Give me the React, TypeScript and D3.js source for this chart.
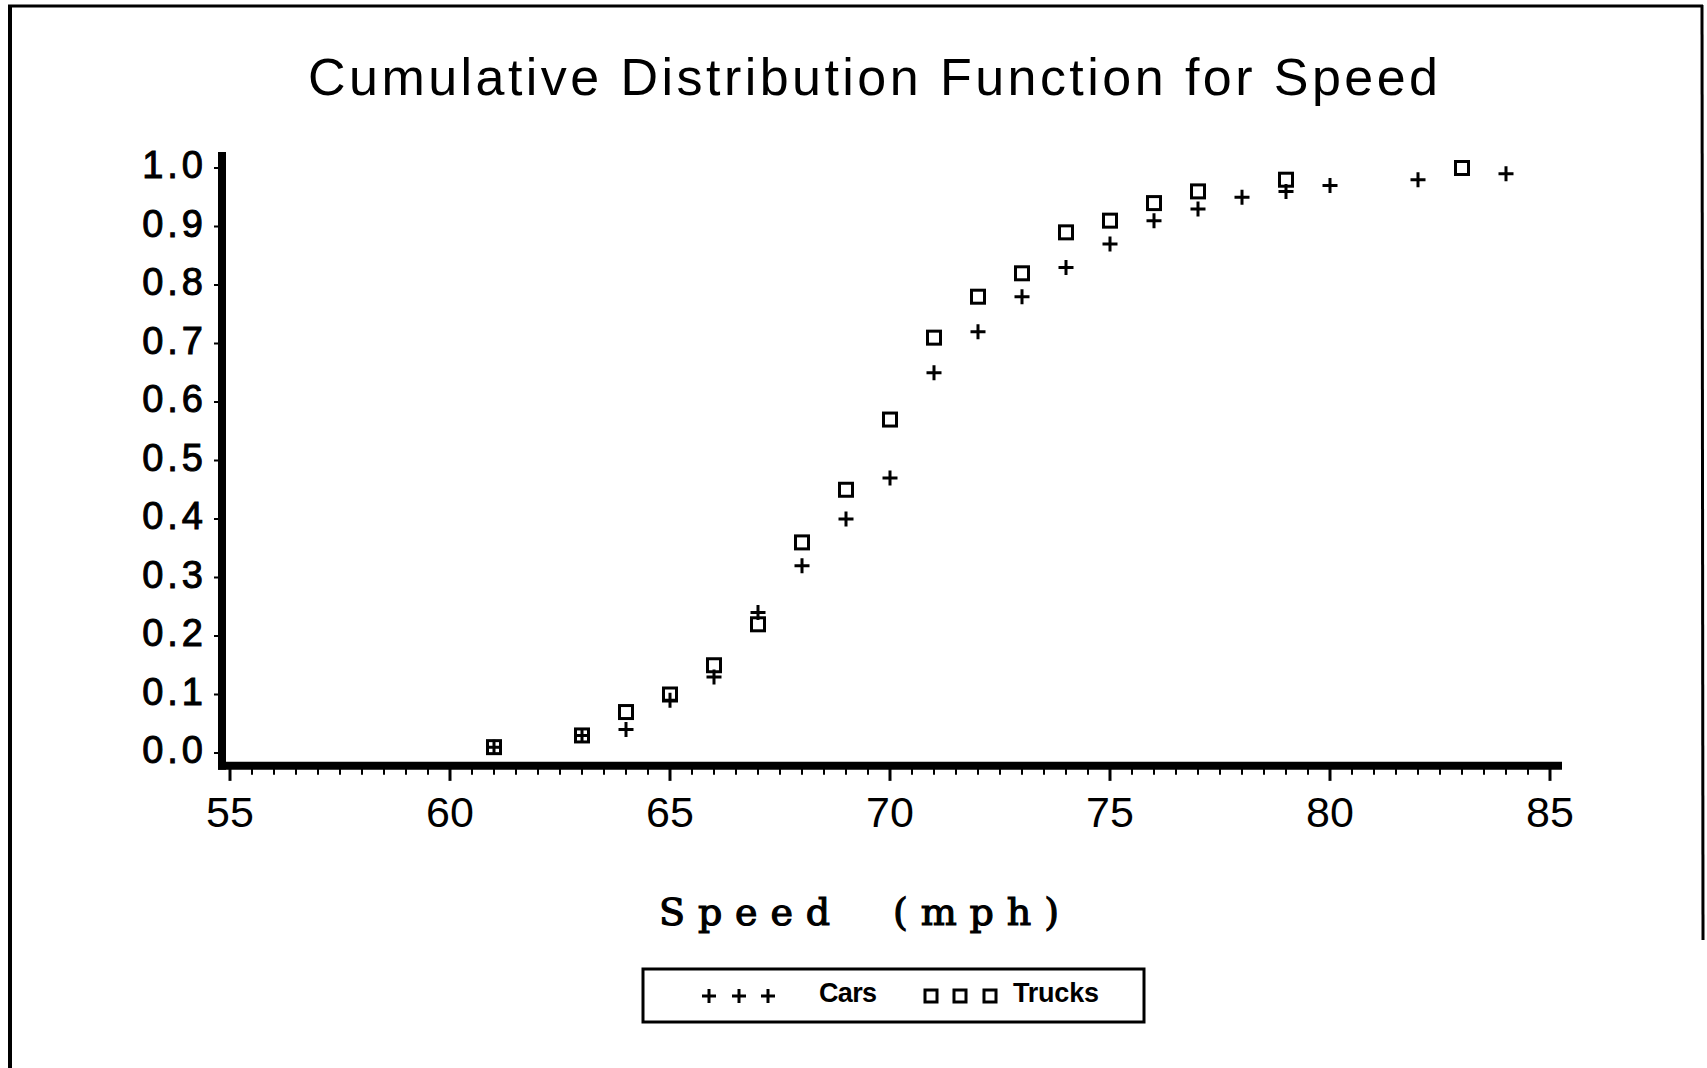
import React from "react";
import * as d3 from "d3";

const carsSpeed = [61, 63, 64, 65, 66, 67, 68, 69, 70, 71, 72, 73, 74, 75, 76, 77, 78, 79, 80, 82, 84];
const carsCdf = [0.01, 0.03, 0.04, 0.09, 0.13, 0.24, 0.32, 0.4, 0.47, 0.65, 0.72, 0.78, 0.83, 0.87, 0.91, 0.93, 0.95, 0.96, 0.97, 0.98, 0.99];
const trucksSpeed = [61, 63, 64, 65, 66, 67, 68, 69, 70, 71, 72, 73, 74, 75, 76, 77, 79, 83];
const trucksCdf = [0.01, 0.03, 0.07, 0.1, 0.15, 0.22, 0.36, 0.45, 0.57, 0.71, 0.78, 0.82, 0.89, 0.91, 0.94, 0.96, 0.98, 1.0];
const xTicks = [55, 60, 65, 70, 75, 80, 85];
const yTicks = [0, 0.1, 0.2, 0.3, 0.4, 0.5, 0.6, 0.7, 0.8, 0.9, 1.0];
const titleText = "Cumulative Distribution Function for Speed";
const xLabelText = "Speed  (mph)";
const legendLabels = ["Cars", "Trucks"];

const W = 1707;
const H = 1068;

export default function App() {
  const x = d3.scaleLinear().domain([55, 85]).range([230, 1550]);
  const y = d3.scaleLinear().domain([0, 1]).range([753, 168]);

  const minorX = d3.range(55, 85.01, 0.5);
  const axisY = y(-0.022);

  const plus = (cx: number, cy: number, s: number) =>
    `M${cx - s},${cy}H${cx + s}M${cx},${cy - s}V${cy + s}`;

  const cars = carsSpeed.map((s, i) => ({ s, v: carsCdf[i] }));
  const trucks = trucksSpeed.map((s, i) => ({ s, v: trucksCdf[i] }));

  return (
    <svg
      width={W}
      height={H}
      style={{ position: "absolute", left: 0, top: 0, background: "#fff" }}
    >
      <rect x={0} y={0} width={W} height={H} fill="#fff" />
      {/* frame */}
      <line x1={8} y1={6} x2={1703} y2={6} stroke="#000" strokeWidth={3} />
      <line x1={10} y1={5} x2={10} y2={H} stroke="#000" strokeWidth={4} />
      <line x1={1702} y1={5} x2={1703} y2={940} stroke="#000" strokeWidth={3} />

      {/* title */}
      <text
        x={308}
        y={95}
        fontFamily="'Liberation Sans', Arial, sans-serif"
        fontSize={52}
        textLength={1130}
        lengthAdjust="spacing"
        fill="#000"
      >
        {titleText}
      </text>

      {/* y axis */}
      <line x1={222} y1={152} x2={222} y2={axisY + 4} stroke="#000" strokeWidth={8} />
      {yTicks.map((t) => (
        <g key={"yt" + t}>
          <line x1={214} y1={y(t)} x2={222} y2={y(t)} stroke="#000" strokeWidth={2} />
          <text
            x={207}
            y={y(t) + 10}
            textAnchor="end"
            fontFamily="'Liberation Sans', Arial, sans-serif"
            fontSize={38}
            letterSpacing={4}
            fill="#000"
            stroke="#000"
            strokeWidth={1}
          >
            {t.toFixed(1)}
          </text>
        </g>
      ))}

      {/* x axis */}
      <line x1={218} y1={axisY} x2={1562} y2={axisY} stroke="#000" strokeWidth={8} />
      {minorX.map((t) => {
        const major = Math.abs(t % 5) < 1e-9;
        return (
          <line
            key={"xt" + t}
            x1={x(t)}
            y1={axisY}
            x2={x(t)}
            y2={axisY + (major ? 15 : 9)}
            stroke="#000"
            strokeWidth={major ? 3 : 2}
          />
        );
      })}
      {xTicks.map((t) => (
        <text
          key={"xl" + t}
          x={x(t)}
          y={827}
          textAnchor="middle"
          fontFamily="'Liberation Sans', Arial, sans-serif"
          fontSize={43}
          fill="#000"
        >
          {t}
        </text>
      ))}

      {/* x axis label */}
      <text
        x={659}
        y={925}
        fontFamily="'DejaVu Serif', 'Liberation Serif', serif"
        fontSize={38}
        textLength={400}
        lengthAdjust="spacing"
        fill="#000"
        stroke="#000"
        strokeWidth={1.2}
        style={{ whiteSpace: "pre" }}
      >
        {xLabelText}
      </text>

      {/* data: trucks squares */}
      {trucks.map((d, i) => (
        <rect
          key={"tr" + i}
          x={x(d.s) - 6.5}
          y={y(d.v) - 6.5}
          width={13}
          height={13}
          fill="none"
          stroke="#000"
          strokeWidth={3}
        />
      ))}
      {/* data: cars plus */}
      {cars.map((d, i) => (
        <path
          key={"cr" + i}
          d={plus(x(d.s), y(d.v), 7.5)}
          stroke="#000"
          strokeWidth={3}
          fill="none"
        />
      ))}

      {/* legend */}
      <rect x={643} y={969} width={501} height={53} fill="none" stroke="#000" strokeWidth={3} />
      {[709, 739, 768].map((cx) => (
        <path key={"lp" + cx} d={plus(cx, 996, 7)} stroke="#000" strokeWidth={3} fill="none" />
      ))}
      <text
        x={819}
        y={1002}
        fontFamily="'Liberation Sans', Arial, sans-serif"
        fontSize={27}
        fontWeight="bold"
        textLength={58}
        lengthAdjust="spacing"
        fill="#000"
      >
        {legendLabels[0]}
      </text>
      {[931, 960, 990].map((cx) => (
        <rect
          key={"ls" + cx}
          x={cx - 6}
          y={996 - 6}
          width={12}
          height={12}
          fill="none"
          stroke="#000"
          strokeWidth={3}
        />
      ))}
      <text
        x={1013}
        y={1002}
        fontFamily="'Liberation Sans', Arial, sans-serif"
        fontSize={27}
        fontWeight="bold"
        textLength={86}
        lengthAdjust="spacing"
        fill="#000"
      >
        {legendLabels[1]}
      </text>
    </svg>
  );
}
